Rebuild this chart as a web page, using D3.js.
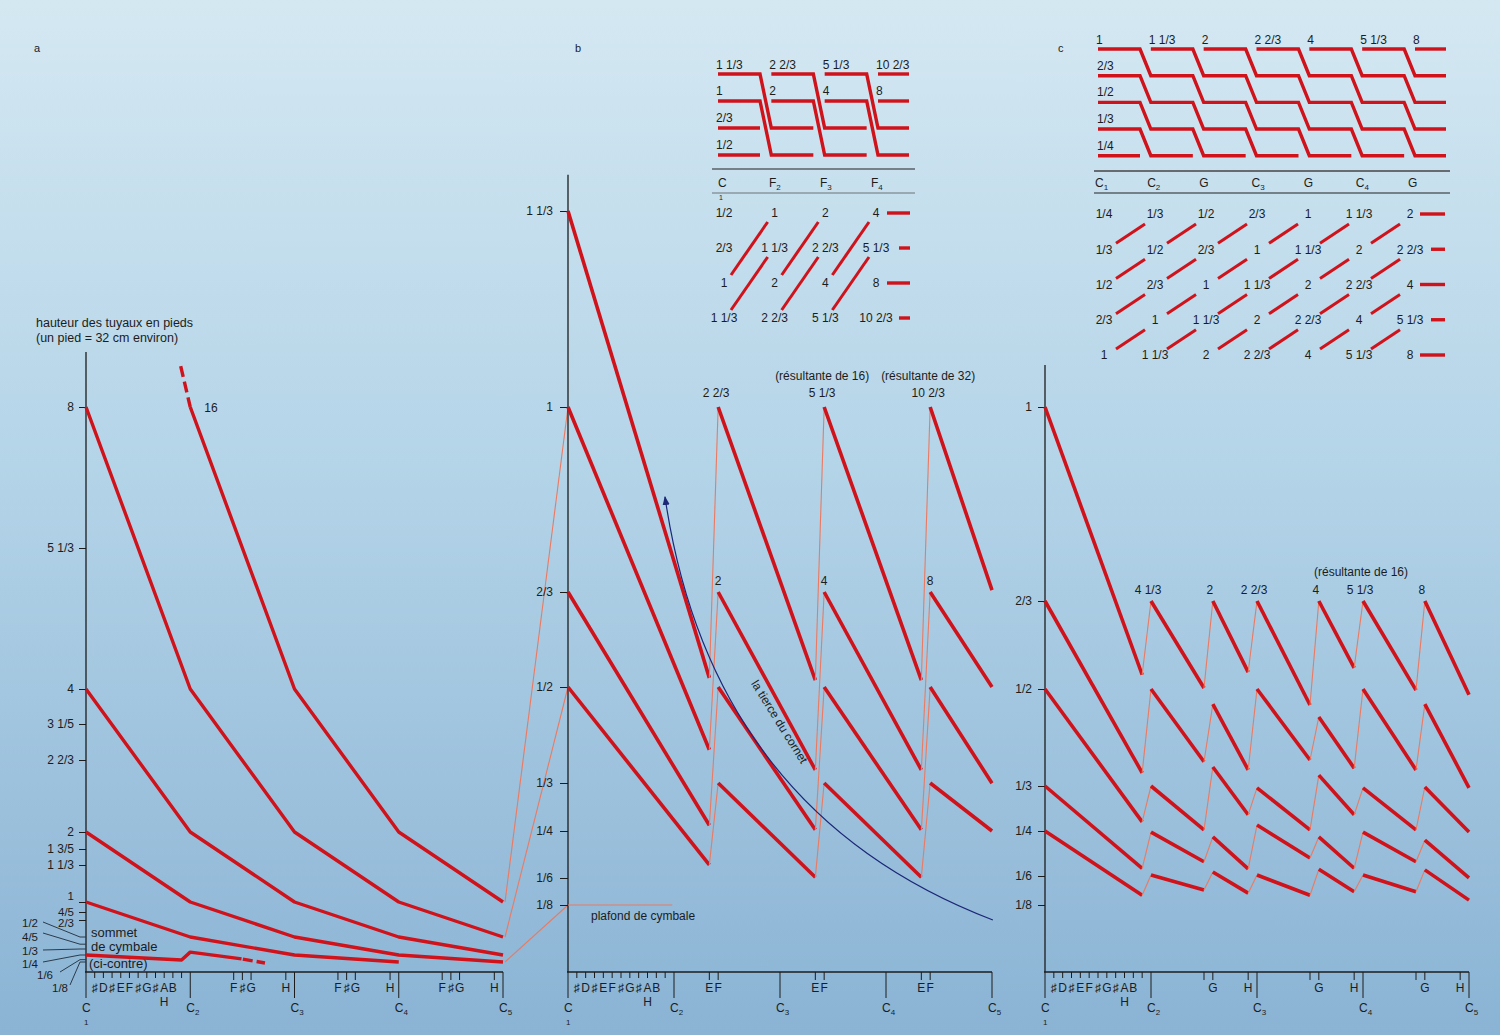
<!DOCTYPE html>
<html><head><meta charset="utf-8">
<script src="https://cdn.jsdelivr.net/npm/d3@7"></script>
<style>body{margin:0;background:#fff}</style>
</head><body>
<svg id="chart" width="1500" height="1035"></svg>
<script>
// ================= DATA =================
const semitoneLabels = ["♯","D","♯","E","F","♯","G","♯","A","B"]; // semitones 1..10 of first octave
const octaveCs = [0,12,24,36,48];
const octaveNums = ["1","2","3","4","5"];

// ---- panel a ----
const aTickValues = [8,16/3,4,16/5,8/3,2,8/5,4/3,1,4/5,2/3];
const aTickLabels = ["8","5 1/3","4","3 1/5","2 2/3","2","1 3/5","1 1/3","1","4/5","2/3"];
const aLowValues = [1/2,2/5,1/3,1/4,1/6,1/8];
const aLowLabels = ["1/2","4/5","1/3","1/4","1/6","1/8"];
const aNodeSemis = [0,12,24,36,48];
const aRank16 = [null,8,4,2,1];
const aRank8 = [8,4,2,1,1/2];
const aRank4 = [4,2,1,1/2,1/4];
const aRank2 = [2,1,1/2,1/4,1/8];
const aRank1 = [1,1/2,1/4,1/8,null];
const aRank16Lead = [[10.9,8.58],[12,8]];
const aCymbalSemis = [0,11,12,17.9];
const aCymbalVals = [1/4,0.161,0.29,0.18];
const aCymbalTail = [[18.05,0.177],[20.6,0.111]];
const aOctTickSemis = [5,6,7,11];
const aOctTickLabels = ["F","♯","G","H"];
const bridgeFrom = [1,1/2,1/8];   // panel a values at C5
const bridgeTo = [1,1/2,1/8];     // panel b values at C1

// ---- panel b ----
const bTickValues = [4/3,1,2/3,1/2,1/3,1/4,1/6,1/8];
const bTickLabels = ["1 1/3","1","2/3","1/2","1/3","1/4","1/6","1/8"];
const bSections = [[0,16],[17,28],[29,40],[41,48]];
const bStart = [[4/3,1,2/3,1/2],[1,2/3,1/2,1/3],[1,2/3,1/2,1/3],[1,2/3,1/2,1/3]];
const bEnd = [[0.516,0.391,0.26,0.19],[0.512,0.356,0.252,0.168],[0.512,0.356,0.252,0.168],[0.67,0.5,0.333,0.25]];
const bTopNames = ["2 2/3","5 1/3","10 2/3"];
const bResult = ["","(résultante de 16)","(résultante de 32)"];
const bSecondNames = ["2","4","8"];
const bOctTickSemis = [4,5];
const bOctTickLabels = ["E","F"];
const plafond = [[0,1/8],[11.8,1/8]];
const tierceCurve = [[48.1,0.0986],[16.2,0.283],[10.98,0.838]]; // start, control, end
// inset b
const bInsetRow0 = ["1 1/3","2 2/3","5 1/3","10 2/3"];
const bInsetRow1 = ["1","2","4","8"];
const bInsetLeft = ["2/3","1/2"];
const bInsetCols = [["C",""],["F","2"],["F","3"],["F","4"]];
const bGridLabels = [
 ["1/2","1","2","4"],
 ["2/3","1 1/3","2 2/3","5 1/3"],
 ["1","2","4","8"],
 ["1 1/3","2 2/3","5 1/3","10 2/3"]];
const bGridDash = ["long","short","long","short"];

// ---- panel c ----
const cTickValues = [1,2/3,1/2,1/3,1/4,1/6,1/8];
const cTickLabels = ["1","2/3","1/2","1/3","1/4","1/6","1/8"];
const cSections = [[0,11],[12,18],[19,23],[24,30],[31,35],[36,42],[43,48]];
const cStart = [
 [1,2/3,1/2,1/3,1/4],
 [2/3,1/2,1/3,0.248,0.1685],
 [2/3,0.474,0.366,0.239,0.174],
 [2/3,1/2,0.33,0.261,0.1685],
 [2/3,0.452,0.352,0.239,0.179],
 [2/3,1/2,0.33,0.248,0.1685],
 [2/3,0.474,0.3315,0.233,0.178]];
const cEnd = [
 [0.527,0.356,0.267,0.181,0.139],
 [0.502,0.375,0.252,0.193,0.1466],
 [0.532,0.361,0.28,0.18,0.142],
 [0.4725,0.378,0.252,0.2,0.139],
 [0.54,0.364,0.28,0.181,0.144],
 [0.498,0.361,0.252,0.193,0.144],
 [0.49,0.33,0.248,0.164,0.132]];
const cTopNames = ["4 1/3","2","2 2/3","4","5 1/3","8"];
const cOctTickSemis = [6,7,11];
const cOctTickLabels = ["","G","H"];
// inset c
const cInsetTop = ["1","1 1/3","2","2 2/3","4","5 1/3","8"];
const cInsetLeft = ["2/3","1/2","1/3","1/4"];
const cInsetCols = [["C","1"],["C","2"],["G",""],["C","3"],["G",""],["C","4"],["G",""]];
const cGridLabels = [
 ["1/4","1/3","1/2","2/3","1","1 1/3","2"],
 ["1/3","1/2","2/3","1","1 1/3","2","2 2/3"],
 ["1/2","2/3","1","1 1/3","2","2 2/3","4"],
 ["2/3","1","1 1/3","2","2 2/3","4","5 1/3"],
 ["1","1 1/3","2","2 2/3","4","5 1/3","8"]];
const cGridDash = ["long","short","long","short","long"];

// ================= STYLE / LAYOUT =================
const FONT = "'Liberation Sans', Arial, 'DejaVu Sans', sans-serif";
const RED = "#d0121b", THIN = "#ea7a62", INK = "#1c1c1c", NAVY = "#1c2778";
const THICK = 3.6;
const aLabelNudge = [0,0,0,0,0,0,0,0,-6,0,3]; // vertical nudges of crowded panel-a tick labels
const svg = d3.select("#chart").attr("font-family", FONT);
const defs = svg.append("defs");
const grad = defs.append("linearGradient").attr("id","bg").attr("x1",0).attr("y1",0).attr("x2",0).attr("y2",1);
[["0%","#d4e8f2"],["45%","#b4d4e8"],["100%","#8ab3d4"]].forEach(s=>grad.append("stop").attr("offset",s[0]).attr("stop-color",s[1]));
svg.append("rect").attr("width",1500).attr("height",1035).attr("fill","url(#bg)");
defs.append("marker").attr("id","arr").attr("viewBox","0 0 10 10").attr("refX",9).attr("refY",5)
  .attr("markerWidth",9).attr("markerHeight",9).attr("orient","auto-start-reverse").attr("markerUnits","userSpaceOnUse")
  .append("path").attr("d","M0,1 L10,5 L0,9 Z").attr("fill",NAVY);

const xA = d3.scaleLinear().domain([0,48]).range([86,503]);
const yA = d3.scaleLinear().domain([0,1/8,1/4,1/2,2/3,4/5,1,4/3,8/5,2,8/3,16/5,4,16/3,8,16])
  .range([971,962,955,937,920,912,902,865,849,832,760,724,689,548,407,-157]);
const xB = d3.scaleLinear().domain([0,48]).range([568,992]);
const yB = d3.scaleLinear().domain([0,1/8,1/6,1/4,1/3,1/2,2/3,1,4/3,1.5]).range([976,905,878,831,783,687,592,407,211,113]);
const xC = d3.scaleLinear().domain([0,48]).range([1045,1469]);
const yC = d3.scaleLinear().domain([0,1/8,1/6,1/4,1/3,1/2,2/3,1,4/3]).range([976,905,876,831,786,689,601,407,213]);
const YBASE = 972;

function txt(g, x, y, t, size, anchor) {
  return g.append("text").attr("x",x).attr("y",y).attr("font-size",size||12)
    .attr("text-anchor",anchor||"start").attr("fill",INK).text(t);
}
function thick(g, pts, x, y, w) {
  return g.append("path").attr("d", d3.line().x(p=>x(p[0])).y(p=>y(p[1]))(pts))
    .attr("fill","none").attr("stroke",RED).attr("stroke-width",w||THICK).attr("stroke-linejoin","round");
}
function thin(g, pts, x, y) {
  return g.append("path").attr("d", d3.line().x(p=>x(p[0])).y(p=>y(p[1]))(pts))
    .attr("fill","none").attr("stroke",THIN).attr("stroke-width",1.1);
}
function yAxis(g, x, y, values, labels, size, pad, topVal, nudge) {
  const ax = d3.axisLeft(y).tickValues(values).tickFormat((d,i)=>labels[i]).tickSize(size).tickPadding(pad);
  const gg = g.append("g").attr("transform",`translate(${x.range()[0]},0)`).call(ax);
  gg.attr("font-family",FONT).attr("font-size",12);
  gg.select(".domain").remove();
  gg.selectAll(".tick line").attr("stroke",INK);
  gg.selectAll(".tick text").attr("fill",INK);
  if (nudge) gg.selectAll(".tick text").attr("y",(d,i)=>nudge[i]);
  g.append("line").attr("x1",x.range()[0]).attr("x2",x.range()[0]).attr("y1",YBASE).attr("y2",y(topVal))
    .attr("stroke",INK).attr("stroke-width",1.3);
  return gg;
}
function xAxis(g, x, octSemis, octLabels) {
  g.append("line").attr("x1",x(0)-1).attr("x2",x(48)).attr("y1",YBASE).attr("y2",YBASE).attr("stroke",INK).attr("stroke-width",1.3);
  g.selectAll(null).data(octaveCs).join("line")
    .attr("x1",d=>x(d)).attr("x2",d=>x(d)).attr("y1",YBASE).attr("y2",YBASE+26).attr("stroke",INK).attr("stroke-width",1);
  octaveCs.forEach((d,i)=>{
    const t = txt(g, x(d)-4, YBASE+40, "C", 12);
    if (i>0) t.append("tspan").attr("font-size",8).attr("dy",3).text(octaveNums[i]);
  });
  txt(g, x(0)-2, YBASE+53, octaveNums[0], 8);
  const semis = d3.range(1,12);
  g.selectAll(null).data(semis).join("line")
    .attr("x1",d=>x(d)).attr("x2",d=>x(d)).attr("y1",YBASE).attr("y2",YBASE+6).attr("stroke",INK).attr("stroke-width",1);
  semitoneLabels.forEach((l,i)=>txt(g, x(i+1), YBASE+20, l, 12, "middle"));
  txt(g, x(9), YBASE+34, "H", 12, "middle");
  [12,24,36].forEach(base=>{
    octSemis.forEach((s,i)=>{
      g.append("line").attr("x1",x(base+s)).attr("x2",x(base+s)).attr("y1",YBASE).attr("y2",YBASE+8).attr("stroke",INK);
      if (octLabels[i]) txt(g, x(base+s), YBASE+20, octLabels[i], 12, "middle");
    });
  });
}

// ================= PANEL A =================
const gA = svg.append("g");
txt(gA, 34, 52, "a", 11);
txt(gA, 36, 327, "hauteur des tuyaux en pieds", 12.5);
txt(gA, 36, 342, "(un pied = 32 cm environ)", 12.5);
const axA = yAxis(gA, xA, yA, aTickValues, aTickLabels, 7, 5, 8.78, aLabelNudge);
axA.selectAll(".tick text").filter((d,i)=>i>=8).attr("font-size",11.5);
xAxis(gA, xA, aOctTickSemis, aOctTickLabels);
// low labels with leader lines
const lowLabelPos = [[30,923],[30,937],[30,951],[30,964],[45,975],[60,988]];
const lowLeadStart = [[43,922],[43,933],[43,950],[43,962],[60,972],[70,985]];
aLowValues.forEach((v,i)=>{
  txt(gA, lowLabelPos[i][0], lowLabelPos[i][1]+4, aLowLabels[i], 11.5, "middle");
  gA.append("path").attr("d", d3.line()([lowLeadStart[i],[80, yA(v)],[xA(0), yA(v)]]))
    .attr("fill","none").attr("stroke","#2b3b4b").attr("stroke-width",1);
});
txt(gA, 91, 937, "sommet", 13);
txt(gA, 91, 951, "de cymbale", 13);
txt(gA, 89, 968, "(ci-contre)", 13);
[aRank16,aRank8,aRank4,aRank2,aRank1].forEach(r=>{
  const pts = aNodeSemis.map((s,i)=>[s,r[i]]).filter(p=>p[1]!=null);
  thick(gA, pts, xA, yA, 3.4);
});
thick(gA, aRank16Lead, xA, yA, 3.4).attr("stroke-dasharray","11,5");
txt(gA, xA(12)+14, yA(8)+5, "16", 12);
thick(gA, aCymbalSemis.map((s,i)=>[s,aCymbalVals[i]]), xA, yA, 3.4);
thick(gA, aCymbalTail, xA, yA, 3.4).attr("stroke-dasharray","10,4");

// bridges a -> b
bridgeFrom.forEach((v,i)=>{
  svg.append("line").attr("x1",xA(48)+2).attr("y1",yA(v)).attr("x2",xB(0)).attr("y2",yB(bridgeTo[i]))
    .attr("stroke",THIN).attr("stroke-width",1.1);
});

// ================= PANEL B =================
const gB = svg.append("g");
txt(gB, 575, 52, "b", 11);
yAxis(gB, xB, yB, bTickValues, bTickLabels, 8, 7, 1.395);
xAxis(gB, xB, bOctTickSemis, bOctTickLabels);
thin(gB, plafond, xB, yB);
txt(gB, 591, 920, "plafond de cymbale", 12);
bSections.forEach((sec,k)=>{
  bStart[k].forEach((v,r)=>{
    thick(gB, [[sec[0],v],[sec[1],bEnd[k][r]]], xB, yB);
    if (k < bSections.length-1) thin(gB, [[sec[1],bEnd[k][r]],[bSections[k+1][0],bStart[k+1][r]]], xB, yB);
  });
});
bTopNames.forEach((n,i)=>{
  const s = bSections[i+1][0];
  txt(gB, xB(s)-2, yB(1)-10, n, 12, "middle");
  if (bResult[i]) txt(gB, xB(s)-2, yB(1)-27, bResult[i], 12, "middle");
  txt(gB, xB(s), yB(2/3)-7, bSecondNames[i], 12, "middle");
});
// tierce du cornet
const tp = d3.path();
tp.moveTo(xB(tierceCurve[0][0]), yB(tierceCurve[0][1]));
tp.quadraticCurveTo(xB(tierceCurve[1][0]), yB(tierceCurve[1][1]), xB(tierceCurve[2][0]), yB(tierceCurve[2][1]));
gB.append("path").attr("d",tp.toString()).attr("fill","none").attr("stroke",NAVY).attr("stroke-width",1.2).attr("marker-end","url(#arr)");
gB.append("text").attr("transform","translate(776,724) rotate(58)").attr("text-anchor","middle")
  .attr("font-size",12).attr("fill",INK).text("la tierce du cornet");

// inset b top
const bColX = d3.scaleLinear().domain([0,3]).range([718,878]);
const bRowY = d3.scalePoint().domain([0,1,2,3]).range([74,155]);
const bSegW = i => i<3 ? 42 : 31;
const insetLine = (g, pts) => g.append("path").attr("d", d3.line()(pts)).attr("fill","none")
  .attr("stroke",RED).attr("stroke-width",3.4).attr("stroke-linejoin","miter");
bInsetRow0.forEach((n,c)=>{
  [0,1].forEach(r=>{
    const pts = [[bColX(c),bRowY(r)],[bColX(c)+bSegW(c),bRowY(r)]];
    if (c<3) pts.push([bColX(c+1),bRowY(r+2)],[bColX(c+1)+bSegW(c+1),bRowY(r+2)]);
    insetLine(gB, pts);
  });
  txt(gB, bColX(c)-2, bRowY(0)-5, n, 12);
  txt(gB, bColX(c)-2, bRowY(1)-6, bInsetRow1[c], 12);
});
bInsetLeft.forEach((n,i)=>{
  insetLine(gB, [[bColX(0),bRowY(i+2)],[bColX(0)+bSegW(0),bRowY(i+2)]]);
  txt(gB, bColX(0)-2, bRowY(i+2)-6, n, 12);
});
gB.append("line").attr("x1",712).attr("x2",915).attr("y1",169).attr("y2",169).attr("stroke","#222").attr("stroke-width",1.2);
gB.append("line").attr("x1",712).attr("x2",915).attr("y1",193).attr("y2",193).attr("stroke","#555").attr("stroke-width",0.8);
const bColLab = d3.scalePoint().domain([0,1,2,3]).range([718,871]);
bInsetCols.forEach((c,i)=>{
  const t = txt(gB, bColLab(i), 187, c[0], 12);
  if (c[1]) t.append("tspan").attr("font-size",8).attr("dy",3).text(c[1]);
});
txt(gB, 719, 200, "1", 7);
// inset b grid
const bGX = d3.scalePoint().domain([0,1,2,3]).range([724,876]);
const bGY = d3.scalePoint().domain([0,1,2,3]).range([213,318]);
bGridLabels.forEach((row,r)=>row.forEach((l,c)=>{
  txt(gB, bGX(c), bGY(r), l, 12, "middle").attr("dy","0.36em");
}));
bGridDash.forEach((k,r)=>insetLine(gB, [[k==="long"?887:899, bGY(r)],[910, bGY(r)]]));
[0,1,2].forEach(i=>[2,3].forEach(r=>{
  insetLine(gB, [[bGX(i)+7, bGY(r)-8],[bGX(i+1)-7, bGY(r-2)+9]]).attr("stroke-width",3);
}));

// ================= PANEL C =================
const gC = svg.append("g");
txt(gC, 1058, 52, "c", 11);
yAxis(gC, xC, yC, cTickValues, cTickLabels, 7, 6, 1.072);
xAxis(gC, xC, cOctTickSemis, cOctTickLabels);
cSections.forEach((sec,k)=>{
  cStart[k].forEach((v,r)=>{
    thick(gC, [[sec[0],v],[sec[1],cEnd[k][r]]], xC, yC);
    if (k < cSections.length-1) thin(gC, [[sec[1],cEnd[k][r]],[cSections[k+1][0],cStart[k+1][r]]], xC, yC);
  });
});
cTopNames.forEach((n,i)=>{
  const s = cSections[i+1][0];
  txt(gC, xC(s)-3, yC(2/3)-7, n, 12, "middle");
});
txt(gC, 1361, 576, "(résultante de 16)", 12, "middle");

// inset c top
const cColX = d3.scaleLinear().domain([0,6]).range([1098,1415]);
const cRowY = d3.scalePoint().domain([0,1,2,3,4]).range([49,155.7]);
const cSegW = i => i<6 ? 42 : 31;
function cStair(c0, r0) {
  const pts = [];
  for (let c=c0, r=r0; c<7 && r<5; c++, r++) {
    pts.push([cColX(c),cRowY(r)],[cColX(c)+cSegW(c),cRowY(r)]);
  }
  insetLine(gC, pts);
}
cInsetTop.forEach((n,c)=>{ cStair(c,0); txt(gC, cColX(c)-2, cRowY(0)-5, n, 12); });
cInsetLeft.forEach((n,i)=>{ cStair(0,i+1); txt(gC, cColX(0)-1, cRowY(i+1)-6, n, 12); });
gC.append("line").attr("x1",1094).attr("x2",1450).attr("y1",171).attr("y2",171).attr("stroke","#444").attr("stroke-width",1.6);
gC.append("line").attr("x1",1094).attr("x2",1450).attr("y1",193).attr("y2",193).attr("stroke","#222").attr("stroke-width",1.1);
const cColLab = d3.scalePoint().domain(d3.range(7)).range([1095,1408]);
cInsetCols.forEach((c,i)=>{
  const t = txt(gC, cColLab(i), 187, c[0], 12);
  if (c[1]) t.append("tspan").attr("font-size",8).attr("dy",3).text(c[1]);
});
const cGX = d3.scalePoint().domain(d3.range(7)).range([1104,1410]);
const cGY = d3.scalePoint().domain(d3.range(5)).range([214,355]);
cGridLabels.forEach((row,r)=>row.forEach((l,c)=>{
  txt(gC, cGX(c), cGY(r), l, 12, "middle").attr("dy","0.36em");
}));
cGridDash.forEach((k,r)=>insetLine(gC, [[k==="long"?1420:1431, cGY(r)],[1445, cGY(r)]]));
d3.range(6).forEach(i=>[1,2,3,4].forEach(r=>{
  insetLine(gC, [[cGX(i)+12, cGY(r)-6],[cGX(i+1)-10, cGY(r-1)+10]]).attr("stroke-width",3);
}));
</script>
</body></html>
